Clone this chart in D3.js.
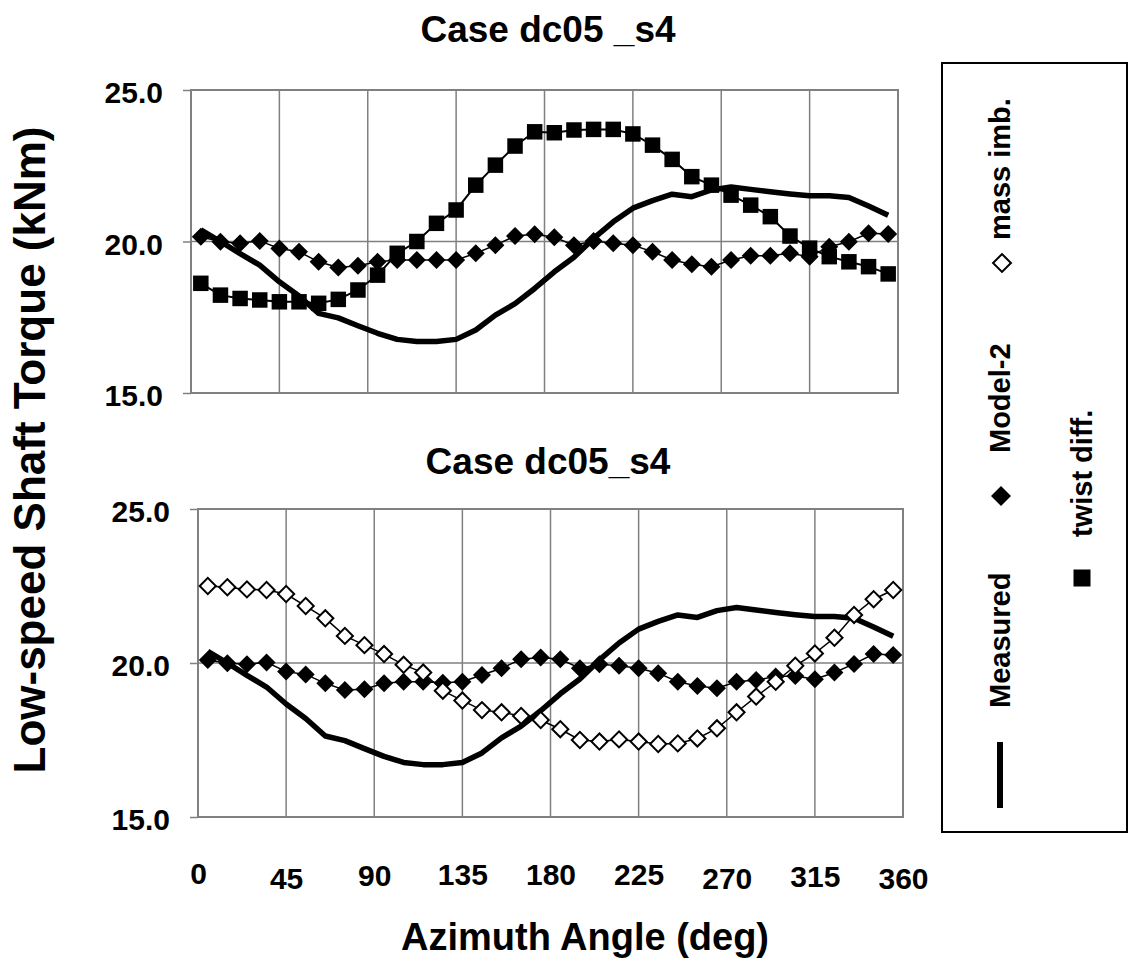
<!DOCTYPE html>
<html><head><meta charset="utf-8">
<script src="https://cdn.jsdelivr.net/npm/d3@7"></script>
<style>
html,body{margin:0;padding:0;background:#fff;}
text{font-family:"Liberation Sans",Arial,sans-serif;font-weight:bold;fill:#000;}
</style></head>
<body>
<svg id="chart" width="1129" height="962"></svg>
<script>
// ---------- data ----------
const angles = [5,15,25,35,45,55,65,75,85,95,105,115,125,135,145,155,165,175,185,195,205,215,225,235,245,255,265,275,285,295,305,315,325,335,345,355];
const measured = [20.38,20.0,19.6,19.22,18.67,18.2,17.63,17.48,17.22,16.97,16.77,16.70,16.70,16.77,17.08,17.57,17.95,18.45,19.0,19.48,20.1,20.65,21.1,21.35,21.56,21.48,21.70,21.80,21.72,21.64,21.57,21.51,21.51,21.45,21.17,20.87];
const model2Top = [20.16,19.99,19.94,20.02,19.77,19.66,19.33,19.14,19.20,19.33,19.39,19.39,19.39,19.39,19.61,19.88,20.18,20.24,20.14,19.88,20.02,19.94,19.88,19.66,19.39,19.25,19.17,19.39,19.53,19.53,19.61,19.50,19.83,19.99,20.27,20.25];
const twistDiff = [18.62,18.23,18.12,18.07,18.01,18.01,17.96,18.09,18.40,18.89,19.61,20.0,20.6,21.04,21.86,22.52,23.15,23.62,23.59,23.68,23.70,23.70,23.55,23.18,22.71,22.14,21.86,21.53,21.20,20.82,20.18,19.78,19.50,19.33,19.17,18.93];
const model2Bot = [20.10,19.99,19.96,20.02,19.72,19.63,19.34,19.12,19.15,19.34,19.39,19.39,19.36,19.39,19.61,19.83,20.12,20.18,20.12,19.83,19.96,19.91,19.83,19.67,19.39,19.25,19.18,19.39,19.45,19.56,19.58,19.47,19.69,19.97,20.29,20.26];
const massImb = [22.50,22.46,22.39,22.37,22.24,21.85,21.45,20.88,20.58,20.29,19.94,19.69,19.10,18.78,18.47,18.40,18.28,18.15,17.85,17.50,17.45,17.52,17.45,17.37,17.39,17.55,17.88,18.40,18.91,19.39,19.91,20.31,20.82,21.56,22.07,22.37];
const xTicks = [0,45,90,135,180,225,270,315,360];
const yTicks = [15,20,25];
const titles = ["Case dc05 _s4","Case dc05_s4"];
const seriesNames = ["Measured","Model-2","mass imb.","twist diff."];
const xTitle = "Azimuth Angle (deg)";
const yTitle = "Low-speed Shaft Torque (kNm)";

// ---------- layout ----------
const svg = d3.select("#chart");
const GRID = "#808080";
const panels = [
  {x:[191,898], y:[393,90], title:titles[0], titleY:42, series:[
     {type:"line", vals:measured},
     {type:"diamond", vals:model2Top},
     {type:"square", vals:twistDiff}]},
  {x:[198,903], y:[817,509], title:titles[1], titleY:474, series:[
     {type:"line", vals:measured},
     {type:"diamond", vals:model2Bot},
     {type:"open", vals:massImb}]}
];

const sq = (a)=>d3.symbol().type(d3.symbolSquare).size(a)();

panels.forEach((p,pi)=>{
  const x = d3.scaleLinear().domain([0,360]).range(p.x);
  const y = d3.scaleLinear().domain([15,25]).range(p.y);
  p.xs = x; p.ys = y;
  const g = svg.append("g");
  g.selectAll(".vg").data(xTicks).join("line")
    .attr("x1",d=>x(d)).attr("x2",d=>x(d)).attr("y1",y(15)).attr("y2",y(25))
    .attr("stroke",GRID).attr("stroke-width",1.5);
  g.selectAll(".hg").data(yTicks).join("line")
    .attr("x1",x(0)).attr("x2",x(360)).attr("y1",d=>y(d)).attr("y2",d=>y(d))
    .attr("stroke",GRID).attr("stroke-width",1.5);
  g.append("rect").attr("x",x(0)).attr("y",y(25)).attr("width",x(360)-x(0)).attr("height",y(15)-y(25))
    .attr("fill","none").attr("stroke",GRID).attr("stroke-width",2);
  const ya = svg.append("g").attr("transform",`translate(${x(0)},0)`)
    .call(d3.axisLeft(y).tickValues(yTicks).tickFormat(d3.format(".1f")).tickSize(8).tickPadding(20));
  ya.select(".domain").remove();
  ya.selectAll(".tick line").attr("stroke",GRID).attr("stroke-width",1.5);
  ya.selectAll("text").style("font-size","30px").attr("dy","0.42em");
  svg.append("text").attr("x",548).attr("y",p.titleY).attr("text-anchor","middle")
    .style("font-size","37px").text(p.title);
  const line = d3.line().x((d,i)=>x(angles[i])).y(d=>y(d));
  p.series.forEach(s=>{
    if(s.type==="line"){
      g.append("path").attr("d",line(s.vals)).attr("fill","none").attr("stroke","#000")
        .attr("stroke-width",5.5).attr("stroke-linejoin","round");
    }
  });
  p.series.forEach(s=>{
    if(s.type==="line") return;
    g.append("path").attr("d",line(s.vals)).attr("fill","none").attr("stroke","#000")
      .attr("stroke-width",s.type==="square"?2:1.5);
    const m = g.selectAll(null).data(s.vals).join("path")
      .attr("transform",(d,i)=>`translate(${x(angles[i])},${y(d)})` + (s.type==="square"?"":" rotate(45)"));
    if(s.type==="square") m.attr("d",sq(240)).attr("fill","#000");
    else if(s.type==="diamond") m.attr("d",sq(162)).attr("fill","#000");
    else m.attr("d",sq(130)).attr("fill","#fff").attr("stroke","#000").attr("stroke-width",2);
  });
});

// x axis labels (bottom panel)
const pb = panels[1];
const stagger = [-13,-8,-11,-12,-12,-12,-8,-10,-8];
const xa = svg.append("g").attr("transform",`translate(0,${pb.y[0]})`)
  .call(d3.axisBottom(pb.xs).tickValues(xTicks).tickSize(0).tickFormat(d3.format("d")));
xa.select(".domain").remove();
xa.selectAll("text").style("font-size","30px").attr("dy",null)
  .attr("y",(d,i)=>80+stagger[i]);

svg.append("text").attr("x",585).attr("y",950).attr("text-anchor","middle")
  .style("font-size","38px").text(xTitle);
svg.append("text").attr("transform","translate(45,450) rotate(-90)").attr("text-anchor","middle")
  .style("font-size","44px").text(yTitle);

// legend
const lg = svg.append("g");
lg.append("rect").attr("x",942).attr("y",63).attr("width",185).attr("height",769)
  .attr("fill","#fff").attr("stroke","#000").attr("stroke-width",2);
const legendItems = [
  {name:seriesNames[0], type:"line", mx:1000, my:775, tx:1010, ty:708},
  {name:seriesNames[1], type:"diamond", mx:1001, my:496, tx:1010, ty:453},
  {name:seriesNames[2], type:"open", mx:1002, my:263, tx:1010, ty:240},
  {name:seriesNames[3], type:"square", mx:1082, my:578, tx:1092, ty:537}
];
legendItems.forEach(it=>{
  if(it.type==="line"){
    lg.append("line").attr("x1",it.mx).attr("x2",it.mx).attr("y1",it.my-33).attr("y2",it.my+33)
      .attr("stroke","#000").attr("stroke-width",6);
  } else if(it.type==="square"){
    lg.append("path").attr("d",sq(289)).attr("transform",`translate(${it.mx},${it.my})`).attr("fill","#000");
  } else if(it.type==="diamond"){
    lg.append("path").attr("d",sq(200)).attr("transform",`translate(${it.mx},${it.my}) rotate(45)`).attr("fill","#000");
  } else {
    lg.append("path").attr("d",sq(160)).attr("transform",`translate(${it.mx},${it.my}) rotate(45)`)
      .attr("fill","#fff").attr("stroke","#000").attr("stroke-width",2);
  }
  lg.append("text").attr("transform",`translate(${it.tx},${it.ty}) rotate(-90)`)
    .style("font-size","29px").text(it.name);
});
</script>
</body></html>
